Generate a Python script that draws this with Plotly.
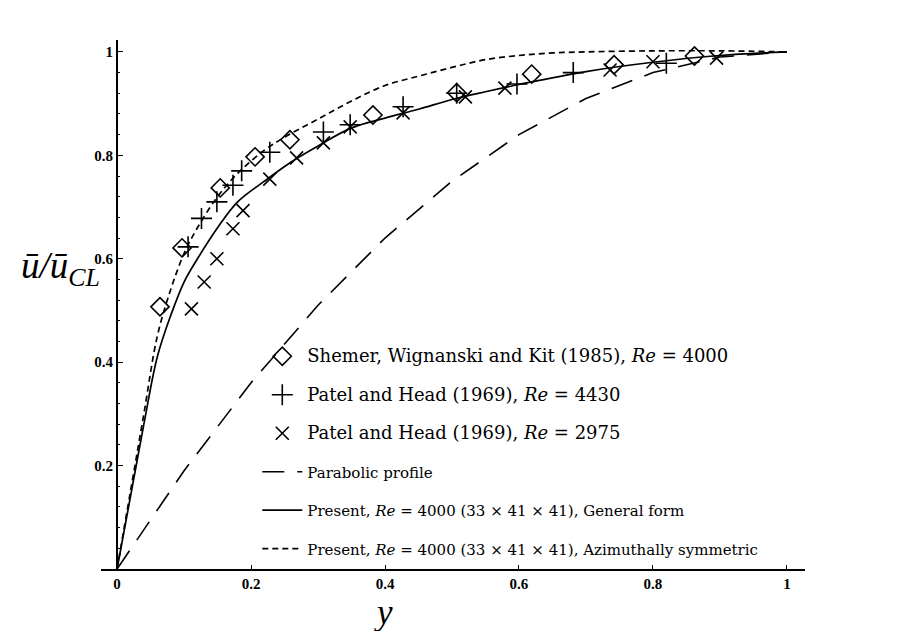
import plotly.graph_objects as go

# ---------------- data ----------------
shemer_x = [0.064, 0.097, 0.154, 0.206, 0.258, 0.382, 0.507, 0.619, 0.742, 0.862]
shemer_y = [0.507, 0.621, 0.737, 0.797, 0.830, 0.878, 0.921, 0.957, 0.975, 0.992]

patel4430_x = [0.106, 0.126, 0.149, 0.173, 0.186, 0.228, 0.308, 0.348, 0.427, 0.507, 0.597, 0.681, 0.820]
patel4430_y = [0.623, 0.678, 0.710, 0.742, 0.770, 0.806, 0.845, 0.859, 0.894, 0.920, 0.938, 0.960, 0.978]

patel2975_x = [0.111, 0.130, 0.149, 0.173, 0.188, 0.228, 0.268, 0.308, 0.348, 0.427, 0.520, 0.579, 0.736, 0.800, 0.895]
patel2975_y = [0.503, 0.555, 0.600, 0.658, 0.693, 0.754, 0.795, 0.824, 0.855, 0.882, 0.913, 0.930, 0.965, 0.981, 0.988]

parab_x = [0.0, 0.1, 0.2, 0.3, 0.4, 0.5, 0.6, 0.7, 0.8, 0.9, 1.0]
parab_y = [0.0, 0.19, 0.36, 0.51, 0.64, 0.75, 0.84, 0.91, 0.96, 0.99, 1.0]

general_x = [0.0, 0.02, 0.04, 0.06, 0.08, 0.10, 0.12, 0.15, 0.18, 0.22, 0.26, 0.30, 0.35,
             0.40, 0.45, 0.50, 0.55, 0.60, 0.70, 0.80, 0.90, 1.0]
general_y = [0.0, 0.14, 0.28, 0.41, 0.49, 0.555, 0.60, 0.66, 0.71, 0.75, 0.787, 0.818, 0.853,
             0.872, 0.889, 0.908, 0.923, 0.937, 0.962, 0.980, 0.993, 1.0]

azim_x = [0.0, 0.02, 0.04, 0.06, 0.08, 0.10, 0.12, 0.15, 0.18, 0.22, 0.25, 0.30, 0.35,
          0.40, 0.45, 0.50, 0.55, 0.60, 0.65, 0.70, 0.80, 0.90, 1.0]
azim_y = [0.0, 0.15, 0.30, 0.45, 0.54, 0.61, 0.66, 0.72, 0.765, 0.81, 0.835, 0.87, 0.905,
          0.935, 0.953, 0.970, 0.985, 0.993, 0.998, 1.0, 1.002, 1.002, 1.0]

x_tickvals = [0, 0.2, 0.4, 0.6, 0.8, 1.0]
x_ticktext = ["0", "0.2", "0.4", "0.6", "0.8", "1"]
y_tickvals = [0.2, 0.4, 0.6, 0.8, 1.0]
y_ticktext = ["0.2", "0.4", "0.6", "0.8", "1"]

big = "<span style='font-size:18px'>%s</span>"
names = [
    big % "Shemer, Wignanski and Kit (1985), <i>Re</i> = 4000",
    big % "Patel and Head (1969), <i>Re</i> = 4430",
    big % "Patel and Head (1969), <i>Re</i> = 2975",
    "Parabolic profile",
    "Present, <i>Re</i> = 4000 (33 \u00d7 41 \u00d7 41), General form",
    "Present, <i>Re</i> = 4000 (33 \u00d7 41 \u00d7 41), Azimuthally symmetric",
]

SERIF = "DejaVu Serif"
fig = go.Figure()

fig.add_trace(go.Scatter(x=parab_x, y=parab_y, mode="lines", name=names[3], legendrank=4,
                         legendgroup="g4", line=dict(color="black", width=1.6, dash="22px,13px")))
fig.add_trace(go.Scatter(x=general_x, y=general_y, mode="lines", name=names[4], legendrank=5,
                         legendgroup="g5", line=dict(color="black", width=1.7), line_shape="spline"))
fig.add_trace(go.Scatter(x=azim_x, y=azim_y, mode="lines", name=names[5], legendrank=6,
                         legendgroup="g6", line=dict(color="black", width=1.7, dash="6px,4px"),
                         line_shape="spline"))
fig.add_trace(go.Scatter(x=shemer_x, y=shemer_y, mode="markers", name=names[0], legendrank=1,
                         legendgroup="g1",
                         marker=dict(symbol="diamond-open", size=14, color="black",
                                     line=dict(width=1.6, color="black"))))
fig.add_trace(go.Scatter(x=patel4430_x, y=patel4430_y, mode="markers", name=names[1], legendrank=2,
                         legendgroup="g2",
                         marker=dict(symbol="cross-thin-open", size=15, color="black",
                                     line=dict(width=1.6, color="black"))))
fig.add_trace(go.Scatter(x=patel2975_x, y=patel2975_y, mode="markers", name=names[2], legendrank=3,
                         legendgroup="g3",
                         marker=dict(symbol="x-thin-open", size=13, color="black",
                                     line=dict(width=1.6, color="black"))))

x_lo, x_hi = -0.024, 1.027
y_lo, y_hi = 0.0, 1.023

fig.update_layout(
    width=911, height=631,
    margin=dict(l=101, r=106, t=40, b=62),
    paper_bgcolor="white", plot_bgcolor="white",
    font=dict(family=SERIF, color="black"),
    xaxis=dict(range=[x_lo, x_hi], showgrid=False, zeroline=False, showline=True,
               linecolor="black", linewidth=2, ticks="inside", ticklen=4, tickwidth=1,
               tickcolor="black", tickvals=x_tickvals, ticktext=x_ticktext,
               tickfont=dict(family="Liberation Serif", size=15, weight="bold")),
    yaxis=dict(range=[y_lo, y_hi], showgrid=False, zeroline=False, showline=True,
               linecolor="black", linewidth=2, ticks="inside", ticklen=5, tickwidth=1,
               tickcolor="black", tickvals=y_tickvals, ticktext=y_ticktext,
               anchor="free", position=(0 - x_lo) / (x_hi - x_lo),
               minor=dict(tickvals=[round(0.04 * i, 2) for i in range(1, 26)],
                          ticks="inside", ticklen=2, tickwidth=1, tickcolor="black"),
               tickfont=dict(family="Liberation Serif", size=15, weight="bold")),
    legend=dict(x=0.222, y=0.433, xanchor="left", yanchor="top", bgcolor="rgba(0,0,0,0)",
                font=dict(family=SERIF, size=15, color="black"),
                traceorder="grouped", tracegroupgap=16, itemwidth=40),
    showlegend=True,
)

fig.add_annotation(x=0.397, xref="x", y=-0.082, yref="paper", text="<i>y</i>", showarrow=False,
                   font=dict(family="Liberation Serif", size=35, color="black"), yanchor="middle")
fig.add_annotation(x=-0.117, xref="paper", y=0.568, yref="paper",
                   text="<i>\u016b/\u016b<sub>CL</sub></i>",
                   showarrow=False, font=dict(family="Liberation Serif", size=37, color="black"))

fig.write_html("out.html")
